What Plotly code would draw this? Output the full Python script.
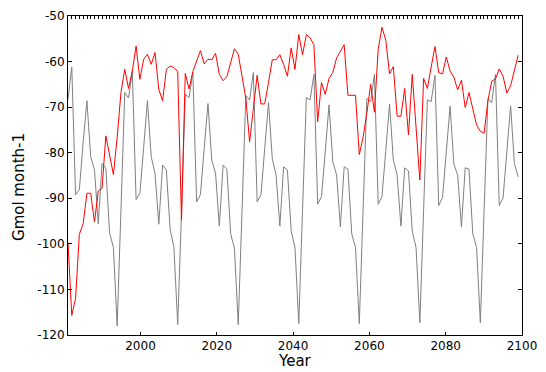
import numpy as np
import plotly.graph_objects as go

# 120 points spanning 1981..2099
years = np.linspace(1981, 2099, 120)

gray_values = [
    -68.2, -61.2, -89.2, -88.1, -77.8, -68.6, -80.9, -83.7, -95.6, -82.4,
    -83.4, -97.6, -100.8, -118.0, -92.5, -66.8, -68.0, -62.1, -90.3, -88.9,
    -78.8, -68.6, -80.9, -84.5, -95.7, -82.7, -83.8, -96.8, -100.8, -117.7,
    -93.0, -67.2, -67.9, -62.4, -90.8, -89.2, -79.1, -69.2, -81.6, -84.5,
    -96.1, -82.7, -83.6, -97.8, -101.0, -117.7, -92.9, -67.5, -68.4, -62.4,
    -90.8, -89.2, -79.1, -69.0, -81.3, -84.9, -96.1, -83.1, -83.8, -97.2,
    -100.8, -117.5, -92.5, -67.9, -68.4, -62.8, -91.3, -89.6, -79.8, -69.5,
    -82.0, -84.9, -96.3, -83.1, -83.6, -97.8, -100.8, -117.5, -92.5, -68.1,
    -68.8, -62.8, -91.3, -89.6, -79.5, -69.3, -81.6, -84.9, -96.1, -83.3,
    -84.0, -97.2, -100.8, -117.3, -92.5, -68.4, -68.8, -63.0, -91.6, -89.8,
    -79.8, -69.8, -82.5, -84.9, -96.3, -83.3, -83.6, -97.8, -100.8, -117.3,
    -92.5, -68.2, -69.0, -62.8, -91.6, -89.9, -79.8, -69.7, -82.4, -85.3,
]

red_values = [
    -99.7, -115.7, -112.0, -97.9, -95.6, -88.9, -88.9, -95.2, -88.4, -87.8,
    -76.3, -80.5, -84.8, -76.6, -66.8, -61.7, -65.9, -62.1, -56.6, -63.9,
    -59.5, -58.4, -60.6, -58.0, -66.1, -68.6, -61.7, -61.0, -61.3, -62.2,
    -94.8, -62.6, -66.0, -62.2, -59.9, -57.6, -60.5, -59.5, -59.6, -58.2,
    -62.8, -64.2, -63.3, -60.3, -57.2, -58.4, -62.8, -68.0, -77.6, -69.8,
    -63.0, -69.3, -69.3, -64.6, -59.6, -59.6, -58.5, -60.6, -63.2, -57.0,
    -61.7, -54.1, -58.5, -54.1, -54.8, -56.3, -73.2, -64.6, -67.2, -63.7,
    -62.4, -59.2, -57.7, -56.3, -67.4, -67.4, -67.4, -80.4, -76.6, -71.3,
    -65.0, -71.1, -57.3, -52.5, -55.3, -62.7, -61.1, -72.0, -72.0, -65.9,
    -76.1, -62.8, -74.4, -86.0, -63.7, -65.9, -61.2, -56.7, -62.4, -62.7,
    -59.0, -62.1, -63.4, -66.2, -64.1, -70.1, -66.8, -70.3, -73.9, -75.3,
    -75.7, -68.6, -64.3, -63.8, -61.6, -63.2, -66.9, -65.3, -61.7, -58.6,
]

x_ticks = [2000, 2020, 2040, 2060, 2080, 2100]
y_ticks = [-120, -110, -100, -90, -80, -70, -60, -50]
y_ticktext = [str(v) for v in y_ticks]

FONT = "DejaVu Sans"

fig = go.Figure()
fig.add_trace(go.Scatter(x=years, y=gray_values, mode="lines",
                         line=dict(color="#808080", width=1), showlegend=False))
fig.add_trace(go.Scatter(x=years, y=red_values, mode="lines",
                         line=dict(color="#ff0000", width=1), showlegend=False))
# invisible helper trace to activate the top (minor tick) axis
fig.add_trace(go.Scatter(x=years, y=red_values, mode="lines", xaxis="x2",
                         line=dict(width=0), opacity=0, hoverinfo="skip",
                         showlegend=False))

fig.update_layout(
    width=546, height=372,
    margin=dict(l=68, r=9, t=13, b=37),
    plot_bgcolor="white", paper_bgcolor="white",
    font=dict(family=FONT, color="black"),
    xaxis=dict(
        range=[1981, 2100], tickvals=x_ticks, ticktext=[str(t) for t in x_ticks],
        ticks="inside", ticklen=3, tickcolor="black",
        showline=True, linecolor="black", linewidth=1, mirror=True,
        showgrid=False, zeroline=False, ticklabeloverflow="allow",
        tickfont=dict(size=12, family=FONT, color="black"),
    ),
    xaxis2=dict(
        overlaying="x", side="top", anchor="y", range=[1981, 2100],
        tick0=1981, dtick=1, ticks="inside", ticklen=3, tickcolor="black",
        showticklabels=False, showline=False, showgrid=False, zeroline=False,
    ),
    yaxis=dict(
        range=[-120, -50], tickvals=y_ticks, ticktext=y_ticktext,
        ticks="inside", ticklen=4, tickcolor="black",
        showline=True, linecolor="black", linewidth=1, mirror="ticks",
        showgrid=False, zeroline=False,
        tickfont=dict(size=12, family=FONT, color="black"),
    ),
    annotations=[
        dict(text="Year", xref="paper", yref="paper", x=0.5, y=-0.0807,
             xanchor="center", yanchor="middle", showarrow=False,
             font=dict(size=15, family=FONT, color="black")),
        dict(text="Gmol month-1", xref="paper", yref="paper",
             x=(18 - 68) / 469, y=(335 - 186) / 322, textangle=-90,
             xanchor="center", yanchor="middle", showarrow=False,
             font=dict(size=15, family=FONT, color="black")),
    ],
)

fig.write_html("out.html")
